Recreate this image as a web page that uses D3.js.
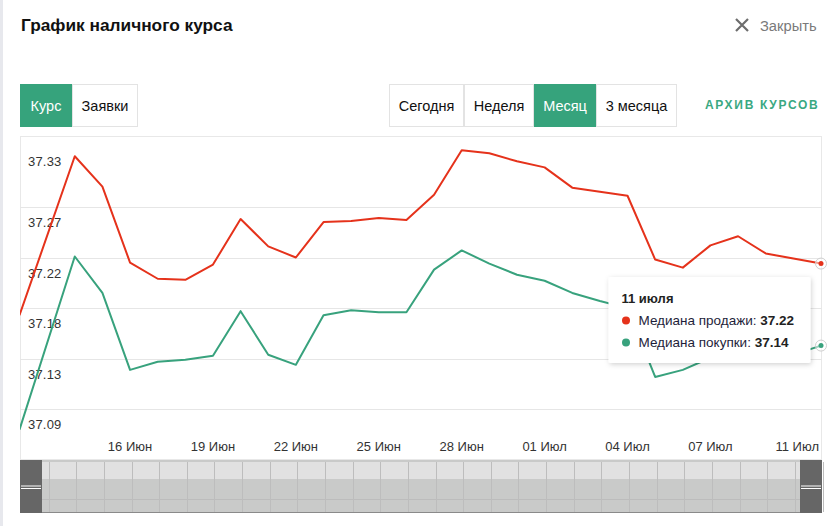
<!DOCTYPE html>
<html><head><meta charset="utf-8">
<script src="https://cdn.jsdelivr.net/npm/d3@7"></script>
<style>
html,body{margin:0;padding:0;background:#fff;}
svg{display:block;font-family:"Liberation Sans",Arial,sans-serif;}
</style></head>
<body>
<svg id="c" width="834" height="526"></svg>
<script>
// ---- data ----
const dates = ["2017-06-12","2017-06-14","2017-06-15","2017-06-16","2017-06-17","2017-06-18","2017-06-19","2017-06-20","2017-06-21","2017-06-22","2017-06-23","2017-06-24","2017-06-25","2017-06-26","2017-06-27","2017-06-28","2017-06-29","2017-06-30","2017-07-01","2017-07-02","2017-07-03","2017-07-04","2017-07-05","2017-07-06","2017-07-07","2017-07-08","2017-07-09","2017-07-10","2017-07-11"];
const sellMedian = [37.173,37.330,37.300,37.225,37.209,37.208,37.223,37.268,37.241,37.230,37.265,37.266,37.269,37.267,37.292,37.336,37.333,37.325,37.319,37.299,37.295,37.291,37.228,37.220,37.242,37.251,37.234,37.229,37.224];
const buyMedian  = [37.060,37.231,37.195,37.119,37.127,37.129,37.133,37.177,37.134,37.124,37.173,37.178,37.176,37.176,37.218,37.237,37.224,37.213,37.207,37.195,37.187,37.180,37.112,37.119,37.131,37.139,37.136,37.134,37.143];
const yTickValues = [37.08,37.13,37.18,37.23,37.28,37.33];
const yTickLabels = ["37.09","37.13","37.18","37.22","37.27","37.33"];
const xTickDates = ["2017-06-16","2017-06-19","2017-06-22","2017-06-25","2017-06-28","2017-07-01","2017-07-04","2017-07-07","2017-07-11"];
const monthShort = ["Янв","Фев","Мар","Апр","Май","Июн","Июл","Авг","Сен","Окт","Ноя","Дек"];
const seriesNames = ["Медиана продажи","Медиана покупки"];
const tooltipTitle = "11 июля";

const RED = "#e5321b", GREEN = "#38a27d";
const parse = d3.timeParse("%Y-%m-%d");
const D = dates.map(parse);

const svg = d3.select("#c");
// page strip
svg.append("rect").attr("x",0).attr("y",0).attr("width",3).attr("height",526).attr("fill","#e7e8ed");

// header
svg.append("text").attr("x",21).attr("y",31).attr("font-size",17.3).attr("font-weight","bold").attr("fill","#111").text("График наличного курса");
const cx = 742, cy = 25;
svg.append("path").attr("d",`M${cx-6},${cy-6}L${cx+6},${cy+6}M${cx+6},${cy-6}L${cx-6},${cy+6}`).attr("stroke","#6d6d6d").attr("stroke-width",2.2);
svg.append("text").attr("x",760).attr("y",31).attr("font-size",14.7).attr("fill","#7a7a7a").text("Закрыть");

// buttons
function buttons(list){
  list.forEach(b=>{
    svg.append("rect").attr("x",b.x+0.5).attr("y",84.5).attr("width",b.w-1).attr("height",42).attr("fill",b.on?"#36a37c":"#fff").attr("stroke",b.on?"#36a37c":"#e3e3e3");
    svg.append("text").attr("x",b.x+b.w/2).attr("y",111).attr("text-anchor","middle").attr("font-size",14.5).attr("fill",b.on?"#fff":"#111").text(b.t);
  });
}
buttons([{x:20,w:52,t:"Курс",on:true},{x:72,w:66,t:"Заявки"}]);
buttons([{x:389,w:75,t:"Сегодня"},{x:464,w:70,t:"Неделя"},{x:534,w:62,t:"Месяц",on:true},{x:596,w:81,t:"3 месяца"}]);
svg.append("text").attr("x",705).attr("y",109).attr("font-size",12).attr("font-weight","bold").attr("letter-spacing",1.7).attr("fill","#3aa882").text("АРХИВ КУРСОВ");

// plot
const L = 20, R = 822, T = 136, B = 459;
const x = d3.scaleTime().domain([D[0], D[D.length-1]]).range([19.5, 821]);
const y = d3.scaleLinear().domain([37.03, 37.35]).range([460, 136]);

svg.append("rect").attr("x",L+0.5).attr("y",T+0.5).attr("width",R-L-1).attr("height",B-T).attr("fill","none").attr("stroke","#e8e8e8");

// gridlines (top tick has no line)
svg.append("g").selectAll("line").data(yTickValues.slice(0,-1)).join("line")
  .attr("x1",L).attr("x2",R).attr("y1",d=>Math.round(y(d))+0.5).attr("y2",d=>Math.round(y(d))+0.5)
  .attr("stroke","#e6e6e6").attr("stroke-width",1.2);

// y labels (top label pulled inside the plot)
const lastTick = yTickValues.length-1;
svg.append("g").selectAll("text").data(yTickValues).join("text")
  .attr("x",28).attr("y",(d,i)=> i===lastTick ? T+30 : y(d)+20)
  .attr("font-size",13).attr("letter-spacing",0.2).attr("fill","#333").text((d,i)=>yTickLabels[i]);

// x labels
const fmt = d => d3.timeFormat("%d")(d)+" "+monthShort[d.getMonth()];
const xt = xTickDates.map(parse);
svg.append("g").selectAll("text").data(xt).join("text")
  .attr("x",(d,i)=> i===xt.length-1 ? R-3 : x(d))
  .attr("y",451).attr("text-anchor",(d,i)=> i===xt.length-1 ? "end":"middle")
  .attr("font-size",13).attr("fill","#333").text(fmt);

// lines
svg.append("clipPath").attr("id","pc").append("rect").attr("x",L).attr("y",T).attr("width",R-L).attr("height",B-T);
const line = d3.line().x((d,i)=>x(D[i])).y(d=>y(d));
const g = svg.append("g").attr("clip-path","url(#pc)");
g.append("path").datum(buyMedian).attr("d",line).attr("fill","none").attr("stroke",GREEN).attr("stroke-width",2).attr("stroke-linejoin","round");
g.append("path").datum(sellMedian).attr("d",line).attr("fill","none").attr("stroke",RED).attr("stroke-width",2).attr("stroke-linejoin","round");

// hover markers on last point
const li = D.length-1;
[[sellMedian,RED],[buyMedian,GREEN]].forEach(([s,c])=>{
  svg.append("circle").attr("cx",x(D[li])).attr("cy",y(s[li])).attr("r",5.5).attr("fill","rgba(255,255,255,0.5)").attr("stroke","#cfcfcf").attr("stroke-width",1);
  svg.append("circle").attr("cx",x(D[li])).attr("cy",y(s[li])).attr("r",2.5).attr("fill",c);
});

// navigator
const NT = 460, NB = 513;
svg.append("rect").attr("x",L).attr("y",NT).attr("width",R-L).attr("height",NB-NT).attr("fill","#c9cac9");
svg.append("rect").attr("x",L).attr("y",NT+2).attr("width",R-L).attr("height",17).attr("fill","#e1e1e1");
svg.append("line").attr("x1",L).attr("x2",R).attr("y1",499.5).attr("y2",499.5).attr("stroke","#bcbcbc");
const days = d3.timeDay.range(D[0], D[li]).slice(1).concat([D[li]]);
svg.append("g").selectAll("line").data(days).join("line")
  .attr("x1",d=>Math.round(x(d)+1.5)+0.5).attr("x2",d=>Math.round(x(d)+1.5)+0.5).attr("y1",NT+2).attr("y2",NB-1)
  .attr("stroke","#bdbdbd");
svg.append("line").attr("x1",L).attr("x2",R).attr("y1",NB-0.5).attr("y2",NB-0.5).attr("stroke","#8a8a8a");
[[L,42],[800,R]].forEach(([a,b])=>{
  svg.append("rect").attr("x",a).attr("y",NT).attr("width",b-a).attr("height",NB-NT).attr("fill","#666");
  svg.append("line").attr("x1",a+1).attr("x2",b-1).attr("y1",486).attr("y2",486).attr("stroke","#fff").attr("stroke-width",1);
  svg.append("line").attr("x1",a+1).attr("x2",b-1).attr("y1",488.5).attr("y2",488.5).attr("stroke","#fff").attr("stroke-width",1);
});

// tooltip
const defs = svg.append("defs");
const f = defs.append("filter").attr("id","sh").attr("x","-10%").attr("y","-10%").attr("width","130%").attr("height","140%");
f.append("feDropShadow").attr("dx",1).attr("dy",1.5).attr("stdDeviation",2.5).attr("flood-color","#000").attr("flood-opacity",0.18);
const tt = svg.append("g").attr("transform","translate(608.5,277)");
tt.append("rect").attr("width",202).attr("height",86).attr("rx",2).attr("fill","#fff").attr("filter","url(#sh)");
tt.append("text").attr("x",13).attr("y",26).attr("font-size",13).attr("font-weight","bold").attr("fill","#222").text(tooltipTitle);
[[sellMedian,RED],[buyMedian,GREEN]].forEach(([s,c],i)=>{
  const yy = 48 + i*22;
  tt.append("circle").attr("cx",17.5).attr("cy",yy-4.5).attr("r",4).attr("fill",c);
  const t = tt.append("text").attr("x",30).attr("y",yy).attr("font-size",13.5).attr("fill","#1e1e3a");
  t.append("tspan").text(seriesNames[i]+": ");
  t.append("tspan").attr("font-weight","bold").attr("fill","#222").text(s[li].toFixed(2));
});
</script>
</body></html>
